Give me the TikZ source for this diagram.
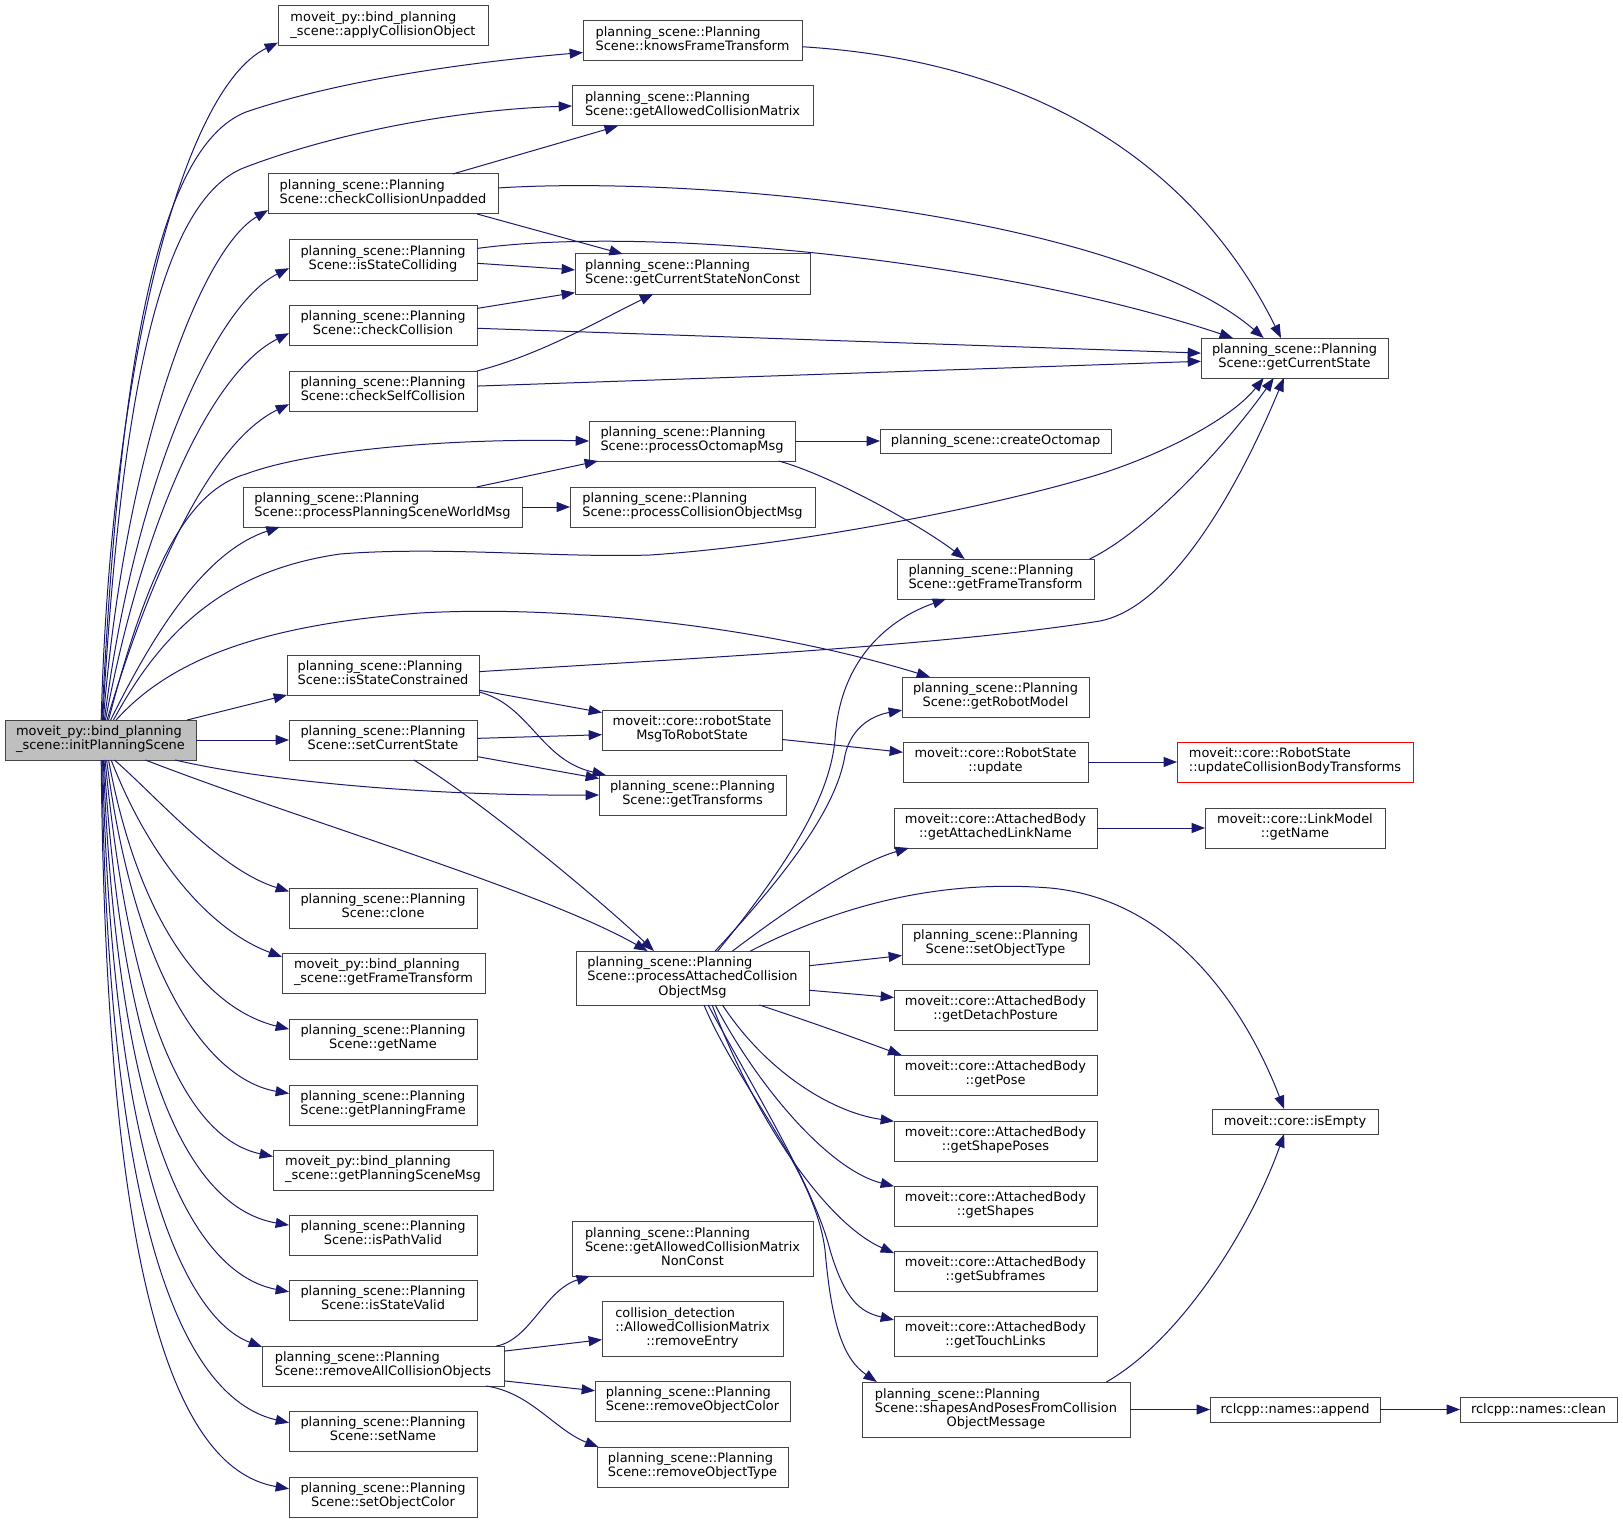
\documentclass[tikz,border=0pt]{standalone}
\usepackage{fontspec}
\setmainfont{DejaVu Sans}
\usepackage{xcolor}
\definecolor{midnightblue}{HTML}{191970}
\definecolor{boxgrey}{HTML}{444444}
\definecolor{rootgrey}{HTML}{BFBFBF}
\usetikzlibrary{arrows.meta}

% label lines: all but the last are left aligned, the last one centred
\newcommand{\twoln}[2]{\begin{tabular}{@{}l@{}}#1\\\multicolumn{1}{@{}c@{}}{#2}\end{tabular}}
\newcommand{\threeln}[3]{\begin{tabular}{@{}l@{}}#1\\#2\\\multicolumn{1}{@{}c@{}}{#3}\end{tabular}}
% box given by its corners in pixels
\newcommand{\callee}[7][]{\node[fn,#1,minimum width={(#5-#3)*0.75pt},minimum height={(#6-#4)*0.75pt}] (#2) at ({(#3+#5)/2},{(#4+#6)/2}) {#7};}

\begin{document}
\begin{tikzpicture}[x=0.75pt,y=-0.75pt,
  fn/.style={draw=boxgrey,fill=white,line width=0.75pt,inner sep=0pt,outer sep=0pt,font=\fontsize{9.7}{10.65}\selectfont},
  rootfn/.style={fill=rootgrey},
  truncfn/.style={draw=red},
  call/.style={draw=midnightblue,line width=0.75pt,-{Triangle[length=10pt,width=7.5pt]}}]
\useasboundingbox (0,0) rectangle (1623,1523);

% caller
\callee[rootfn]{initPS}{5}{720}{196}{760}{\twoln{moveit\_py::bind\_planning}{\_scene::initPlanningScene}}
% first column
\callee{applyCO}{278}{6}{488}{46}{\twoln{moveit\_py::bind\_planning}{\_scene::applyCollisionObject}}
\callee{checkCU}{268}{174}{498}{214}{\twoln{planning\_scene::Planning}{Scene::checkCollisionUnpadded}}
\callee{isSColl}{289}{240}{477}{280}{\twoln{planning\_scene::Planning}{Scene::isStateColliding}}
\callee{checkColl}{289}{305}{477}{345}{\twoln{planning\_scene::Planning}{Scene::checkCollision}}
\callee{checkSC}{289}{371}{477}{411}{\twoln{planning\_scene::Planning}{Scene::checkSelfCollision}}
\callee{procPSWM}{243}{487}{522}{527}{\twoln{planning\_scene::Planning}{Scene::processPlanningSceneWorldMsg}}
\callee{isSCons}{287}{655}{479}{695}{\twoln{planning\_scene::Planning}{Scene::isStateConstrained}}
\callee{setCS}{289}{720}{477}{760}{\twoln{planning\_scene::Planning}{Scene::setCurrentState}}
\callee{clone}{289}{888}{477}{928}{\twoln{planning\_scene::Planning}{Scene::clone}}
\callee{pyGetFT}{282}{953}{485}{993}{\twoln{moveit\_py::bind\_planning}{\_scene::getFrameTransform}}
\callee{getName}{289}{1019}{477}{1059}{\twoln{planning\_scene::Planning}{Scene::getName}}
\callee{getPF}{289}{1085}{477}{1125}{\twoln{planning\_scene::Planning}{Scene::getPlanningFrame}}
\callee{pyGetPSM}{273}{1150}{493}{1190}{\twoln{moveit\_py::bind\_planning}{\_scene::getPlanningSceneMsg}}
\callee{isPV}{289}{1215}{477}{1255}{\twoln{planning\_scene::Planning}{Scene::isPathValid}}
\callee{isSV}{289}{1280}{477}{1320}{\twoln{planning\_scene::Planning}{Scene::isStateValid}}
\callee{rmAll}{262}{1346}{504}{1386}{\twoln{planning\_scene::Planning}{Scene::removeAllCollisionObjects}}
\callee{setName}{289}{1411}{477}{1451}{\twoln{planning\_scene::Planning}{Scene::setName}}
\callee{setOC}{289}{1477}{477}{1517}{\twoln{planning\_scene::Planning}{Scene::setObjectColor}}
% second column
\callee{knowsFT}{583}{21}{802}{61}{\twoln{planning\_scene::Planning}{Scene::knowsFrameTransform}}
\callee{getACM}{572}{86}{813}{126}{\twoln{planning\_scene::Planning}{Scene::getAllowedCollisionMatrix}}
\callee{getCSNC}{575}{254}{810}{294}{\twoln{planning\_scene::Planning}{Scene::getCurrentStateNonConst}}
\callee{procOcto}{589}{421}{795}{461}{\twoln{planning\_scene::Planning}{Scene::processOctomapMsg}}
\callee{procCOM}{570}{487}{815}{527}{\twoln{planning\_scene::Planning}{Scene::processCollisionObjectMsg}}
\callee{rsMsg}{602}{710}{782}{750}{\twoln{moveit::core::robotState}{MsgToRobotState}}
\callee{getTf}{599}{775}{786}{815}{\twoln{planning\_scene::Planning}{Scene::getTransforms}}
\callee{procACOM}{576}{951}{809}{1005}{\threeln{planning\_scene::Planning}{Scene::processAttachedCollision}{ObjectMsg}}
\callee{getACMNC}{572}{1221}{813}{1276}{\threeln{planning\_scene::Planning}{Scene::getAllowedCollisionMatrix}{NonConst}}
\callee{rmEntry}{602}{1301}{783}{1356}{\threeln{collision\_detection}{::AllowedCollisionMatrix}{::removeEntry}}
\callee{rmOC}{595}{1381}{790}{1421}{\twoln{planning\_scene::Planning}{Scene::removeObjectColor}}
\callee{rmOT}{597}{1447}{788}{1487}{\twoln{planning\_scene::Planning}{Scene::removeObjectType}}
% third column
\callee{createOcto}{880}{429}{1111}{453}{planning\_scene::createOctomap}
\callee{getFT}{897}{559}{1094}{599}{\twoln{planning\_scene::Planning}{Scene::getFrameTransform}}
\callee{getRM}{902}{677}{1089}{717}{\twoln{planning\_scene::Planning}{Scene::getRobotModel}}
\callee{rsUpdate}{903}{742}{1088}{782}{\twoln{moveit::core::RobotState}{::update}}
\callee{getALN}{894}{808}{1097}{848}{\twoln{moveit::core::AttachedBody}{::getAttachedLinkName}}
\callee{setOT}{902}{924}{1089}{964}{\twoln{planning\_scene::Planning}{Scene::setObjectType}}
\callee{getDP}{894}{990}{1097}{1030}{\twoln{moveit::core::AttachedBody}{::getDetachPosture}}
\callee{getPose}{894}{1055}{1097}{1095}{\twoln{moveit::core::AttachedBody}{::getPose}}
\callee{getSP}{894}{1121}{1097}{1161}{\twoln{moveit::core::AttachedBody}{::getShapePoses}}
\callee{getShapes}{894}{1186}{1097}{1226}{\twoln{moveit::core::AttachedBody}{::getShapes}}
\callee{getSF}{894}{1251}{1097}{1291}{\twoln{moveit::core::AttachedBody}{::getSubframes}}
\callee{getTL}{894}{1316}{1097}{1356}{\twoln{moveit::core::AttachedBody}{::getTouchLinks}}
\callee{shapesAP}{862}{1382}{1130}{1437}{\threeln{planning\_scene::Planning}{Scene::shapesAndPosesFromCollision}{ObjectMessage}}
% fourth and fifth column
\callee{getCS}{1201}{338}{1388}{378}{\twoln{planning\_scene::Planning}{Scene::getCurrentState}}
\callee[truncfn]{updCBT}{1177}{742}{1413}{782}{\twoln{moveit::core::RobotState}{::updateCollisionBodyTransforms}}
\callee{lmGetName}{1205}{808}{1385}{848}{\twoln{moveit::core::LinkModel}{::getName}}
\callee{isEmpty}{1212}{1109}{1378}{1134}{moveit::core::isEmpty}
\callee{append}{1210}{1397}{1380}{1422}{rclcpp::names::append}
\callee{clean}{1460}{1397}{1617}{1422}{rclcpp::names::clean}

% calls from initPlanningScene, upper fan
\draw[call] (initPS.88) .. controls (110,380) and (180,90) .. (applyCO.189);
\draw[call] (initPS.86) .. controls (118,400) and (150,150) .. (246,112) .. controls (340,80) and (470,62) .. (knowsFT.186);
\draw[call] (initPS.84) .. controls (120,420) and (155,200) .. (246,167) .. controls (330,135) and (450,110) .. (getACM.west);
\draw[call] (initPS.82) .. controls (125,450) and (200,250) .. (checkCU.188);
\draw[call] (initPS.79) .. controls (135,480) and (215,305) .. (isSColl.185);
\draw[call] (initPS.76) .. controls (145,510) and (215,370) .. (checkColl.185);
\draw[call] (initPS.72) .. controls (155,560) and (215,440) .. (checkSC.188);
\draw[call] (initPS.68) .. controls (150,560) and (190,490) .. (246,474) .. controls (310,450) and (450,438) .. (procOcto.west);
\draw[call] (initPS.63) .. controls (160,620) and (210,550) .. (procPSWM.191);
\draw[call] (initPS.57) .. controls (165,625) and (230,570) .. (340,554) .. controls (440,546) and (560,558) .. (650,555)
  .. controls (800,545) and (1000,505) .. (1100,474) .. controls (1160,455) and (1230,420) .. (getCS.213);
\draw[call] (initPS.52) .. controls (170,660) and (260,625) .. (420,613) .. controls (560,605) and (760,625) .. (getRM.163);
\draw[call] (initPS.13) -- (isSCons.south west);
\draw[call] (initPS.east) -- (setCS.west);
\draw[call] (initPS.-15) .. controls (260,780) and (420,796) .. (getTf.west);
\draw[call] (initPS.-24) .. controls (300,820) and (540,890) .. (procACOM.149);
% lower fan
\draw[call] (initPS.-55) .. controls (160,800) and (220,870) .. (clone.170);
\draw[call] (initPS.-62) .. controls (150,860) and (210,930) .. (pyGetFT.171);
\draw[call] (initPS.-68) .. controls (140,930) and (210,1010) .. (getName.174);
\draw[call] (initPS.-73) .. controls (135,980) and (210,1080) .. (getPF.173);
\draw[call] (initPS.-77) .. controls (132,1040) and (195,1140) .. (pyGetPSM.173);
\draw[call] (initPS.-80) .. controls (125,1100) and (200,1210) .. (isPV.174);
\draw[call] (initPS.-82) .. controls (118,1150) and (200,1275) .. (isSV.175);
\draw[call] (initPS.-84) .. controls (112,1180) and (190,1320) .. (rmAll.171);
\draw[call] (initPS.-86) .. controls (108,1250) and (190,1400) .. (setName.175);
\draw[call] (initPS.-88) .. controls (106,1300) and (180,1470) .. (setOC.175);

% first column callers
\draw[call] (checkCU.16) -- (getACM.195);
\draw[call] (checkCU.3) .. controls (700,175) and (1120,215) .. (getCS.147);
\draw[call] (checkCU.-12) -- (getCSNC.164);
\draw[call] (isSColl.7) .. controls (650,225) and (1000,260) .. (getCS.162);
\draw[call] (isSColl.-2) -- (getCSNC.178);
\draw[call] (checkColl.10) -- (getCSNC.189);
\draw[call] (checkColl.-2) -- (getCS.177);
\draw[call] (checkSC.north east) .. controls (540,355) and (600,320) .. (getCSNC.207);
\draw[call] (checkSC.3) -- (getCS.182);
\draw[call] (procPSWM.12) -- (procOcto.192);
\draw[call] (procPSWM.east) -- (procCOM.west);
\draw[call] (isSCons.2) .. controls (700,658) and (950,645) .. (1100,621) .. controls (1180,605) and (1250,460) .. (getCS.242);
\draw[call] (isSCons.-9) -- (rsMsg.169);
\draw[call] (isSCons.-10) .. controls (530,705) and (540,760) .. (getTf.167);
\draw[call] (setCS.1) -- (rsMsg.183);
\draw[call] (setCS.-10) -- (getTf.170);
\draw[call] (setCS.-33) .. controls (480,800) and (600,900) .. (procACOM.145);
\draw[call] (rmAll.10) .. controls (530,1340) and (545,1290) .. (getACMNC.195);
\draw[call] (rmAll.7) -- (rmEntry.187);
\draw[call] (rmAll.-7) -- (rmOC.174);
\draw[call] (rmAll.-11) .. controls (530,1392) and (555,1430) .. (rmOT.168);

% second column callers
\draw[call] (knowsFT.-3) .. controls (1050,62) and (1200,175) .. (getCS.124);
\draw[call] (procOcto.east) -- (createOcto.west);
\draw[call] (procOcto.-13) .. controls (830,475) and (920,525) .. (getFT.147);
\draw[call] (rsMsg.-6) -- (rsUpdate.174);
\draw[call] (procACOM.47) .. controls (800,850) and (830,790) .. (835,740) .. controls (840,650) and (900,615) .. (getFT.202);
\draw[call] (procACOM.50) .. controls (800,860) and (838,800) .. (845,755) .. controls (852,725) and (875,715) .. (getRM.188);
\draw[call] (procACOM.34) .. controls (800,900) and (860,862) .. (getALN.193);
\draw[call] (procACOM.25) .. controls (850,900) and (950,880) .. (1050,888) .. controls (1180,900) and (1250,1020) .. (isEmpty.131);
\draw[call] (procACOM.6) -- (setOT.187);
\draw[call] (procACOM.-6) -- (getDP.173);
\draw[call] (procACOM.-22) .. controls (820,1025) and (860,1040) .. (getPose.168);
\draw[call] (procACOM.-42) .. controls (765,1070) and (830,1112) .. (getSP.169);
\draw[call] (procACOM.-50) .. controls (760,1090) and (830,1170) .. (getShapes.169);
\draw[call] (procACOM.-54) .. controls (760,1130) and (830,1225) .. (getSF.170);
\draw[call] (procACOM.-60) .. controls (760,1100) and (815,1190) .. (830,1250) .. controls (845,1300) and (860,1312) .. (getTL.171);
\draw[call] (procACOM.-67) .. controls (740,1090) and (815,1170) .. (825,1250) .. controls (832,1330) and (845,1360) .. (shapesAP.167);

% third column callers
\draw[call] (getFT.12) .. controls (1150,530) and (1230,440) .. (getCS.224);
\draw[call] (rsUpdate.east) -- (updCBT.west);
\draw[call] (getALN.east) -- (lmGetName.west);
\draw[call] (shapesAP.14) .. controls (1180,1340) and (1250,1230) .. (isEmpty.229);
\draw[call] (shapesAP.east) -- (append.west);
\draw[call] (append.east) -- (clean.west);
\end{tikzpicture}
\end{document}
